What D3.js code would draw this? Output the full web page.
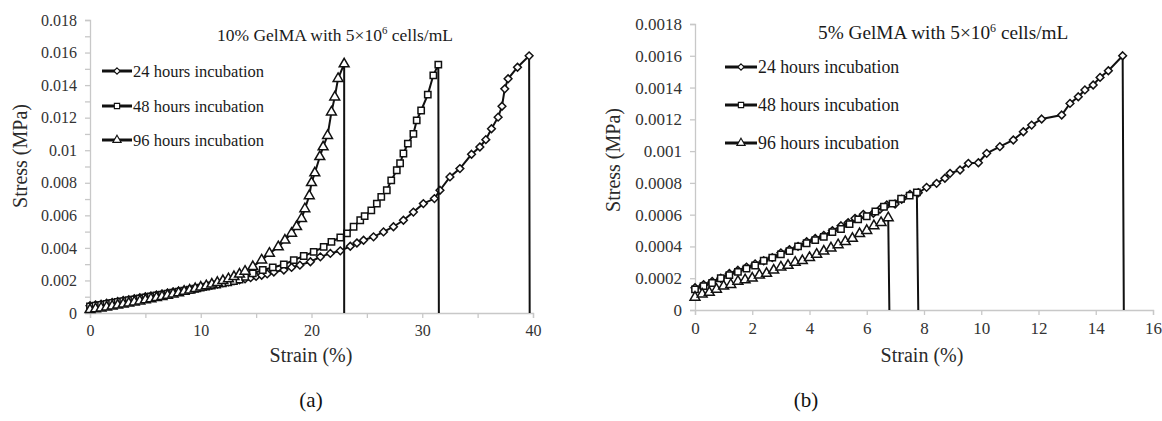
<!DOCTYPE html>
<html>
<head>
<meta charset="utf-8">
<script src="https://cdn.jsdelivr.net/npm/d3@7"></script>
<style>
  body { margin: 0; background: #fff; }
  text { font-family: "Liberation Serif", "Times New Roman", serif; }
</style>
</head>
<body>
<div id="chart"></div>
<script>
const WIDTH = 1162;
const HEIGHT = 421;

const seriesNames = ['24 hours incubation', '48 hours incubation', '96 hours incubation'];

// panel (a): 10% GelMA, strain (%) vs stress (MPa)
const a24 = [[0,0.00045],[0.5,0.0005],[1,0.00055],[1.5,0.0006],[2,0.00065],[2.5,0.00071],[3,0.00077],[3.5,0.00082],[4,0.00088],[4.5,0.00094],
  [5,0.001],[5.5,0.00105],[6,0.00111],[6.5,0.00117],[7,0.00123],[7.5,0.00129],[8,0.00135],[8.5,0.00141],[9,0.00147],[9.5,0.00153],
  [10,0.0016],[10.5,0.00166],[11,0.00172],[11.5,0.00178],[12,0.00185],[12.5,0.00191],[13,0.00198],[13.5,0.00204],[14,0.0021],[14.5,0.00217],
  [15,0.00225],[15.5,0.00232],[16,0.0024],[16.6,0.00252],[17.5,0.00264],[18.2,0.0028],[18.95,0.00294],[19.9,0.00315],[20.8,0.00345],[21.7,0.00366],
  [22.6,0.00382],[23.5,0.0041],[24.1,0.0043],[24.7,0.00447],[25.6,0.00468],[26.5,0.00498],[27.4,0.0053],[28.3,0.0057],[29.2,0.0062],[30.1,0.00672],
  [31.1,0.00703],[31.6,0.00754],[32.5,0.00836],[33.4,0.00887],[34.45,0.00975],[35.2,0.0102],[35.74,0.01065],[36.25,0.01132],[36.85,0.01203],[37.2,0.0127],
  [37.45,0.01377],[37.75,0.01439],[38.6,0.0151],[39.65,0.0158],[39.7,0]];
const a48 = [[0,0.0004],[0.5,0.00045],[1,0.0005],[1.5,0.00056],[2,0.00062],[2.5,0.00068],[3,0.00073],[3.5,0.00079],[4,0.00084],[4.5,0.0009],
  [5,0.00096],[5.5,0.00102],[6,0.00108],[6.5,0.00113],[7,0.00119],[7.5,0.00125],[8,0.00131],[8.5,0.00137],[9,0.00143],[9.5,0.00149],
  [10,0.00156],[10.5,0.00162],[11,0.00169],[11.5,0.00175],[12,0.00182],[12.5,0.00189],[13,0.00196],[13.5,0.00205],[14,0.00222],[14.7,0.00243],
  [15.6,0.00264],[16.5,0.0028],[17.5,0.00298],[18.4,0.00325],[19.3,0.0035],[20.2,0.00376],[21.1,0.00406],[21.8,0.00437],[22.6,0.00464],[23.2,0.00489],
  [23.8,0.0053],[24.4,0.0057],[24.8,0.00595],[25.4,0.00631],[25.9,0.00672],[26.3,0.00713],[26.8,0.00754],[27.2,0.00815],[27.7,0.00877],[28,0.0092],
  [28.3,0.0098],[28.7,0.0104],[29.2,0.011],[29.5,0.01183],[29.9,0.01244],[30.5,0.01342],[31,0.0146],[31.45,0.01526],[31.5,0]];
const a96 = [[0,0.0002],[0.5,0.00025],[1,0.0003],[1.5,0.00036],[2,0.00042],[2.5,0.00048],[3,0.00054],[3.5,0.0006],[4,0.00067],[4.5,0.00073],
  [5,0.0008],[5.5,0.00087],[6,0.00094],[6.5,0.00101],[7,0.00108],[7.5,0.00116],[8,0.00124],[8.5,0.00132],[9,0.0014],[9.5,0.00149],
  [10,0.00158],[10.5,0.00167],[11,0.00177],[11.5,0.00187],[12,0.00198],[12.5,0.0021],[13,0.00223],[13.5,0.00238],[14,0.00256],[14.7,0.00284],
  [15.5,0.00325],[16.2,0.00366],[17,0.00406],[17.6,0.00447],[18.2,0.00489],[18.65,0.0053],[19.1,0.0058],[19.4,0.0064],[19.8,0.0072],[20,0.008],
  [20.3,0.0086],[20.75,0.0096],[21.05,0.0102],[21.45,0.0109],[21.8,0.01234],[22.1,0.01326],[22.4,0.0144],[22.95,0.0153],[22.95,0]];

// panel (b): 5% GelMA
const b24 = [[0,0.00014],[0.3,0.00016],[0.6,0.00018],[0.9,0.0002],[1.2,0.00023],[1.5,0.00025],[1.8,0.00027],[2.1,0.00029],[2.4,0.00031],[2.7,0.00033],
  [3,0.00036],[3.3,0.00038],[3.6,0.0004],[3.9,0.00043],[4.2,0.00045],[4.5,0.00047],[4.8,0.0005],[5.1,0.00053],[5.35,0.00055],[5.59,0.000577],
  [5.88,0.000602],[6.23,0.000609],[6.46,0.000634],[6.7,0.000661],[6.99,0.000667],[7.22,0.000697],[7.51,0.000728],[7.8,0.000738],[8.09,0.000772],[8.44,0.000797],
  [8.73,0.000829],[8.91,0.00086],[9.26,0.000881],[9.55,0.000923],[9.9,0.000927],[10.19,0.000986],[10.65,0.001028],[11.12,0.00107],[11.47,0.001122],[11.76,0.001164],
  [12.11,0.001202],[12.81,0.001227],[13.1,0.0013],[13.39,0.001342],[13.62,0.001385],[13.91,0.001416],[14.15,0.001464],[14.44,0.001506],[14.94,0.0016],[14.98,0]];
const b48 = [[0,0.00013],[0.3,0.00015],[0.6,0.00017],[0.9,0.0002],[1.2,0.00022],[1.5,0.00024],[1.8,0.00026],[2.1,0.00028],[2.4,0.00031],[2.7,0.00033],
  [3,0.00035],[3.3,0.00037],[3.6,0.0004],[3.9,0.00042],[4.2,0.00044],[4.5,0.00046],[4.8,0.00049],[5.1,0.00051],[5.4,0.00054],[5.7,0.00057],
  [6,0.00059],[6.3,0.00062],[6.6,0.00065],[6.9,0.00067],[7.2,0.0007],[7.5,0.00072],[7.75,0.00074],[7.8,0]];
const b96 = [[0,0.00008],[0.25,0.0001],[0.5,0.00011],[0.75,0.00013],[1,0.00015],[1.25,0.00016],[1.5,0.00018],[1.75,0.00019],[2,0.0002],[2.25,0.00022],
  [2.5,0.00023],[2.75,0.00025],[3,0.00027],[3.25,0.00028],[3.5,0.0003],[3.75,0.00031],[4,0.00033],[4.25,0.00035],[4.5,0.00037],[4.75,0.00039],
  [5,0.00041],[5.25,0.00043],[5.5,0.00045],[5.75,0.00048],[6,0.0005],[6.25,0.00053],[6.5,0.00055],[6.75,0.00058],[6.79,0]];

// ticks
const aXTicks = [0, 5, 10, 15, 20, 25, 30, 35, 40];
const aXLabels = [0, 10, 20, 30, 40];
const aYTicks = d3.range(0, 19).map(i => i * 0.001);
const aYLabels = [0, 0.002, 0.004, 0.006, 0.008, 0.01, 0.012, 0.014, 0.016, 0.018];
const bXTicks = [0, 2, 4, 6, 8, 10, 12, 14, 16];
const bYTicks = [0, 0.0002, 0.0004, 0.0006, 0.0008, 0.001, 0.0012, 0.0014, 0.0016, 0.0018];

const symbols = [d3.symbolDiamond2, d3.symbolSquare, d3.symbolTriangle];
const markSizes = [38, 40, 42];
const legendSizes = [26, 28, 30];

const svg = d3.select('#chart')
  .append('svg')
    .attr('width', WIDTH)
    .attr('height', HEIGHT);

const drawPanel = cfg => {
    const x = d3.scaleLinear().domain(cfg.xDomain).range(cfg.xRange);
    const y = d3.scaleLinear().domain(cfg.yDomain).range(cfg.yRange);
    const g = svg.append('g');

    const xAxis = d3.axisBottom(x)
        .tickValues(cfg.xTicks)
        .tickSize(5).tickPadding(7)
        .tickFormat(v => cfg.xLabels.some(l => Math.abs(l - v) < 1e-9) ? v : '');
    const yAxis = d3.axisLeft(y)
        .tickValues(cfg.yTicks)
        .tickSize(5).tickPadding(8)
        .tickFormat(v => cfg.yLabels.some(l => Math.abs(l - v) < 1e-9) ? String(+v.toFixed(5)) : '');

    [g.append('g').attr('transform', `translate(0, ${cfg.yRange[0]})`).call(xAxis),
     g.append('g').attr('transform', `translate(${cfg.xRange[0]}, 0)`).call(yAxis)]
        .forEach(ax => {
            ax.select('.domain').attr('stroke', '#c8c8c8').attr('stroke-width', 1.3);
            ax.selectAll('.tick line').attr('stroke', '#c8c8c8').attr('stroke-width', 1.3);
            ax.selectAll('.tick text')
              .attr('fill', '#333')
              .style('font-family', '"Liberation Serif", serif')
              .style('font-size', cfg.tickFont + 'px');
        });

    const line = d3.line().x(d => x(d[0])).y(d => y(d[1]));

    cfg.series.forEach((data, i) => {
        g.append('path')
         .datum(data)
         .attr('d', line)
         .attr('fill', 'none')
         .attr('stroke', '#111')
         .attr('stroke-width', 2);

        g.selectAll(`.m${i}`)
         .data(data.filter(d => d[1] > 0))
         .enter()
         .append('path')
         .attr('class', `m${i}`)
         .attr('d', d3.symbol().type(symbols[i]).size(markSizes[i]))
         .attr('transform', d => `translate(${x(d[0])}, ${y(d[1])})`)
         .attr('fill', '#fff')
         .attr('stroke', '#111')
         .attr('stroke-width', 1.5);
    });

    // legend
    seriesNames.forEach((name, i) => {
        const ly = cfg.legendY[i];
        const lx = cfg.legendX;
        g.append('line')
         .attr('x1', lx).attr('x2', lx + cfg.legendLen)
         .attr('y1', ly).attr('y2', ly)
         .attr('stroke', '#111').attr('stroke-width', 3);
        g.append('path')
         .attr('d', d3.symbol().type(symbols[i]).size(legendSizes[i]))
         .attr('transform', `translate(${lx + cfg.legendLen / 2}, ${ly})`)
         .attr('fill', '#fff').attr('stroke', '#111').attr('stroke-width', 1.1);
        g.append('text')
         .attr('x', lx + cfg.legendLen + 1)
         .attr('y', ly)
         .attr('dy', '0.35em')
         .attr('fill', '#1a1a1a')
         .style('font-size', cfg.legendFont + 'px')
         .text(name);
    });

    // title
    const t = g.append('text')
        .attr('x', cfg.titleX)
        .attr('y', cfg.titleY)
        .attr('fill', '#1a1a1a')
        .style('font-size', cfg.titleFont + 'px');
    t.append('tspan').text(cfg.titlePre);
    t.append('tspan').attr('dy', -cfg.titleFont * 0.38).style('font-size', (cfg.titleFont * 0.62) + 'px').text('6');
    t.append('tspan').attr('dy', cfg.titleFont * 0.38).text(' cells/mL');

    // axis titles
    g.append('text')
     .attr('transform', `translate(${cfg.yTitleX}, ${cfg.yTitleY}) rotate(-90)`)
     .attr('text-anchor', 'middle')
     .attr('fill', '#2a2a2a')
     .style('font-size', cfg.axisFont + 'px')
     .text('Stress (MPa)');
    g.append('text')
     .attr('x', cfg.xTitleX)
     .attr('y', cfg.xTitleY)
     .attr('text-anchor', 'middle')
     .attr('fill', '#2a2a2a')
     .style('font-size', cfg.axisFont + 'px')
     .text('Strain (%)');

    g.append('text')
     .attr('x', cfg.tagX)
     .attr('y', 407)
     .attr('text-anchor', 'middle')
     .attr('fill', '#111')
     .style('font-size', '21px')
     .text(cfg.tag);
};

drawPanel({
    xDomain: [0, 40], xRange: [90, 533],
    yDomain: [0, 0.018], yRange: [313, 20],
    xTicks: aXTicks, xLabels: aXLabels,
    yTicks: aYTicks, yLabels: aYLabels,
    series: [a24, a48, a96],
    tickFont: 16, legendFont: 16.5, titleFont: 17.5, axisFont: 20,
    legendX: 102, legendLen: 30, legendY: [71, 106, 140],
    titleX: 217, titleY: 41, titlePre: '10% GelMA with 5×10',
    yTitleX: 27, yTitleY: 156,
    xTitleX: 311, xTitleY: 362,
    tagX: 311, tag: '(a)'
});

drawPanel({
    xDomain: [0, 16], xRange: [695, 1153],
    yDomain: [0, 0.0018], yRange: [310, 24],
    xTicks: bXTicks, xLabels: bXTicks,
    yTicks: bYTicks, yLabels: bYTicks,
    series: [b24, b48, b96],
    tickFont: 17, legendFont: 17.8, titleFont: 19.3, axisFont: 20,
    legendX: 725, legendLen: 32, legendY: [67, 105, 143],
    titleX: 818, titleY: 39, titlePre: '5% GelMA with 5×10',
    yTitleX: 620, yTitleY: 160,
    xTitleX: 922, xTitleY: 362,
    tagX: 806, tag: '(b)'
});
</script>
</body>
</html>
